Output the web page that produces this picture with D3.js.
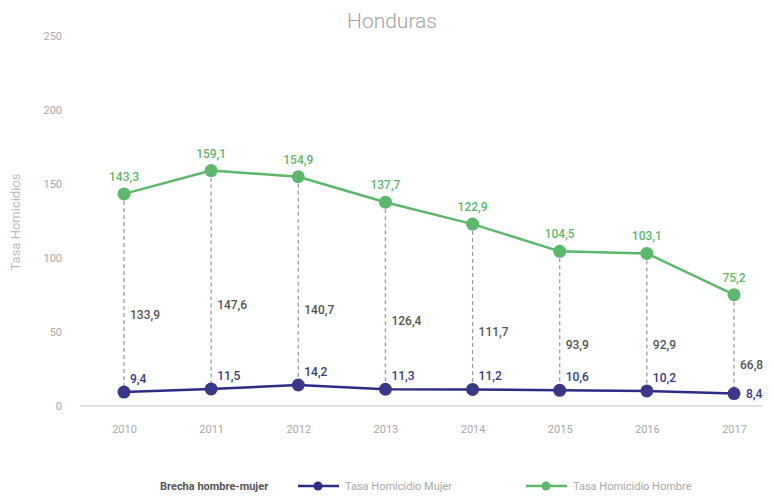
<!DOCTYPE html>
<html>
<head>
<meta charset="utf-8">
<script src="https://cdn.jsdelivr.net/npm/d3@7"></script>
<style>
  body { margin: 0; background: #fff; }
  svg { display: block; font-family: Roboto, "Liberation Sans", sans-serif; }
</style>
</head>
<body>
<svg id="chart" width="774" height="496"></svg>
<script>
// Homicide rate per 100k, Honduras
const years = ["2010", "2011", "2012", "2013", "2014", "2015", "2016", "2017"];
const hombre = [143.3, 159.1, 154.9, 137.7, 122.9, 104.5, 103.1, 75.2];
const mujer = [9.4, 11.5, 14.2, 11.3, 11.2, 10.6, 10.2, 8.4];
const brecha = [133.9, 147.6, 140.7, 126.4, 111.7, 93.9, 92.9, 66.8];
const yTicks = [0, 50, 100, 150, 200, 250];

const GREEN = "#5cb86c";
const NAVY = "#2f2c86";
const NAVY_DOT = "#3b3889";
const GRAY_TXT = "#a9a9a9";

const fmt = v => d3.format(".1f")(v).replace(".", ",");

const svg = d3.select("#chart");

const x = d3.scalePoint().domain(years).range([124, 734]);
const y = d3.scaleLinear().domain([0, 250]).range([406, 36]);

// Title
svg.append("text")
  .attr("x", 392).attr("y", 28)
  .attr("text-anchor", "middle")
  .attr("fill", "#a3a3a3")
  .attr("font-size", 21)
  .attr("font-weight", 300)
  .text("Honduras");

// Y axis title
svg.append("text")
  .attr("transform", "translate(20,222) rotate(-90)")
  .attr("text-anchor", "middle")
  .attr("fill", "#bdbdbd")
  .attr("font-size", 13)
  .text("Tasa Homicidios");

// Y axis (labels only)
const yAxis = svg.append("g")
  .attr("transform", "translate(62,0)")
  .call(d3.axisLeft(y).tickValues(yTicks).tickSize(0).tickPadding(0));
yAxis.select(".domain").remove();
yAxis.selectAll("text").attr("fill", GRAY_TXT).attr("font-size", 11).attr("font-family", "Roboto, sans-serif");

// Baseline
svg.append("line")
  .attr("x1", 80).attr("x2", 762)
  .attr("y1", y(0)).attr("y2", y(0))
  .attr("stroke", "#e3e3e3").attr("stroke-width", 2);

// X axis (labels only)
const xAxis = svg.append("g")
  .attr("transform", `translate(0,${y(0)})`)
  .call(d3.axisBottom(x).tickSize(0).tickPadding(19));
xAxis.select(".domain").remove();
xAxis.selectAll("text").attr("fill", GRAY_TXT).attr("font-size", 11).attr("font-family", "Roboto, sans-serif");

// Dashed gap connectors
svg.append("g").selectAll("line")
  .data(years)
  .join("line")
  .attr("x1", d => x(d)).attr("x2", d => x(d))
  .attr("y1", (d, i) => y(hombre[i]))
  .attr("y2", (d, i) => y(mujer[i]))
  .attr("stroke", "#9e9e9e")
  .attr("stroke-width", 1.3)
  .attr("stroke-dasharray", "4,3");

// Gap labels
svg.append("g").selectAll("text")
  .data(years)
  .join("text")
  .attr("x", d => x(d) + 6)
  .attr("y", (d, i) => y(brecha[i] / 2) + 8)
  .attr("dy", "0.35em")
  .attr("fill", "#555")
  .attr("font-size", 12)
  .attr("font-weight", 500)
  .text((d, i) => fmt(brecha[i]));

function series(values, lineColor, dotColor) {
  const line = d3.line().x((d, i) => x(years[i])).y(d => y(d));
  svg.append("path")
    .datum(values)
    .attr("d", line)
    .attr("fill", "none")
    .attr("stroke", lineColor)
    .attr("stroke-width", 2.5);
  svg.append("g").selectAll("circle")
    .data(values)
    .join("circle")
    .attr("cx", (d, i) => x(years[i]))
    .attr("cy", d => y(d))
    .attr("r", 6.5)
    .attr("fill", dotColor);
}

series(hombre, GREEN, GREEN);
series(mujer, NAVY, NAVY_DOT);

// Hombre value labels (above points)
svg.append("g").selectAll("text")
  .data(hombre)
  .join("text")
  .attr("x", (d, i) => x(years[i]))
  .attr("y", d => y(d) - 13)
  .attr("text-anchor", "middle")
  .attr("fill", GREEN)
  .attr("font-size", 12)
  .attr("font-weight", 500)
  .text(d => fmt(d));

// Mujer value labels (upper right, last one to the right)
svg.append("g").selectAll("text")
  .data(mujer)
  .join("text")
  .attr("x", (d, i) => x(years[i]) + (i === mujer.length - 1 ? 12 : 6))
  .attr("y", (d, i) => y(d) + (i === mujer.length - 1 ? 4 : -9))
  .attr("fill", NAVY_DOT)
  .attr("font-size", 12)
  .attr("font-weight", 500)
  .text(d => fmt(d));

// Legend
const legY = 486;
svg.append("text")
  .attr("x", 160).attr("y", legY + 4)
  .attr("fill", "#555")
  .attr("font-size", 11)
  .attr("font-weight", 700)
  .text("Brecha hombre-mujer");

const legend = [
  { label: "Tasa Homicidio Mujer", color: NAVY, x0: 298 },
  { label: "Tasa Homicidio Hombre", color: GREEN, x0: 526 }
];
const lg = svg.append("g").selectAll("g").data(legend).join("g");
lg.append("line")
  .attr("x1", d => d.x0).attr("x2", d => d.x0 + 41)
  .attr("y1", legY).attr("y2", legY)
  .attr("stroke", d => d.color).attr("stroke-width", 2.5);
lg.append("circle")
  .attr("cx", d => d.x0 + 20).attr("cy", legY).attr("r", 4.5)
  .attr("fill", d => d.color);
lg.append("text")
  .attr("x", d => d.x0 + 47).attr("y", legY + 4)
  .attr("fill", GRAY_TXT)
  .attr("font-size", 11)
  .text(d => d.label);
</script>
</body>
</html>
